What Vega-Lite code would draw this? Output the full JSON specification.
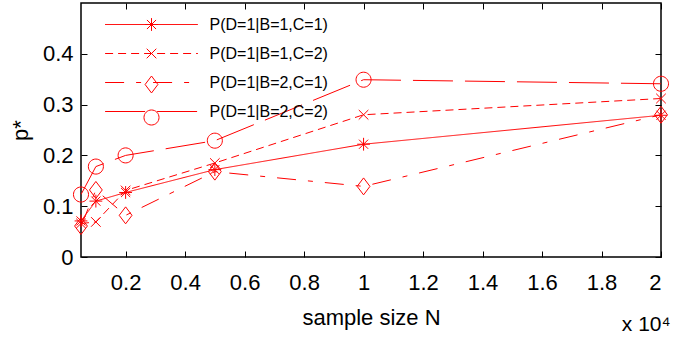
{
  "$schema": "https://vega.github.io/schema/vega-lite/v6.json",
  "width": 580,
  "height": 254,
  "autosize": {"type": "none"},
  "padding": {"left": 81, "top": 3, "right": 22, "bottom": 88},
  "background": "white",
  "config": {
    "view": {"stroke": "black", "strokeWidth": 1.5},
    "font": "Liberation Sans, Arial, sans-serif",
    "axis": {"grid": false, "domain": false, "tickColor": "black", "labelColor": "black", "titleColor": "black", "titleFontWeight": "normal"}
  },
  "title": {"text": "x 10⁴", "orient": "bottom", "anchor": "end", "fontSize": 21, "fontWeight": "normal", "offset": -14, "color": "black"},
  "data": {
    "values": [
      {"N": 500, "p": 0.071, "series": "P(D=1|B=1,C=1)"},
      {"N": 1000, "p": 0.11, "series": "P(D=1|B=1,C=1)"},
      {"N": 2000, "p": 0.127, "series": "P(D=1|B=1,C=1)"},
      {"N": 5000, "p": 0.172, "series": "P(D=1|B=1,C=1)"},
      {"N": 10000, "p": 0.222, "series": "P(D=1|B=1,C=1)"},
      {"N": 20000, "p": 0.279, "series": "P(D=1|B=1,C=1)"},
      {"N": 500, "p": 0.066, "series": "P(D=1|B=1,C=2)"},
      {"N": 1000, "p": 0.069, "series": "P(D=1|B=1,C=2)"},
      {"N": 2000, "p": 0.131, "series": "P(D=1|B=1,C=2)"},
      {"N": 5000, "p": 0.185, "series": "P(D=1|B=1,C=2)"},
      {"N": 10000, "p": 0.28, "series": "P(D=1|B=1,C=2)"},
      {"N": 20000, "p": 0.312, "series": "P(D=1|B=1,C=2)"},
      {"N": 500, "p": 0.061, "series": "P(D=1|B=2,C=1)"},
      {"N": 1000, "p": 0.132, "series": "P(D=1|B=2,C=1)"},
      {"N": 2000, "p": 0.082, "series": "P(D=1|B=2,C=1)"},
      {"N": 5000, "p": 0.168, "series": "P(D=1|B=2,C=1)"},
      {"N": 10000, "p": 0.139, "series": "P(D=1|B=2,C=1)"},
      {"N": 20000, "p": 0.28, "series": "P(D=1|B=2,C=1)"},
      {"N": 500, "p": 0.123, "series": "P(D=1|B=2,C=2)"},
      {"N": 1000, "p": 0.178, "series": "P(D=1|B=2,C=2)"},
      {"N": 2000, "p": 0.2, "series": "P(D=1|B=2,C=2)"},
      {"N": 5000, "p": 0.229, "series": "P(D=1|B=2,C=2)"},
      {"N": 10000, "p": 0.349, "series": "P(D=1|B=2,C=2)"},
      {"N": 20000, "p": 0.341, "series": "P(D=1|B=2,C=2)"}
    ]
  },
  "layer": [
    {
      "mark": {"type": "line", "stroke": "#ff0000", "strokeWidth": 1, "clip": true},
      "encoding": {
        "x": {"field": "N", "type": "quantitative", "scale": {"domain": [500, 20000], "nice": false, "zero": false},
          "axis": {"orient": "bottom", "values": [2000, 4000, 6000, 8000, 10000, 12000, 14000, 16000, 18000, 20000],
            "labelExpr": "format(datum.value/10000, '~g')", "tickSize": -6, "labelPadding": 21, "labelFontSize": 22,
            "title": "sample size N", "titleFontSize": 22, "titlePadding": 14}},
        "y": {"field": "p", "type": "quantitative", "scale": {"domain": [0, 0.5], "nice": false},
          "axis": {"orient": "left", "values": [0, 0.1, 0.2, 0.3, 0.4], "format": "~g", "tickSize": -6, "labelPadding": 14,
            "labelFontSize": 22, "title": "p*", "titleFontSize": 22, "titlePadding": 10}},
        "strokeDash": {"field": "series", "type": "nominal",
          "scale": {"domain": ["P(D=1|B=1,C=1)", "P(D=1|B=1,C=2)", "P(D=1|B=2,C=1)", "P(D=1|B=2,C=2)"],
            "range": [[1, 0], [8, 5], [19, 12, 5, 12], [40, 12]]},
          "legend": {"title": null, "orient": "none", "legendX": 62, "legendY": 13, "symbolType": "M-5.8,0H5.8", "symbolSize": 256,
            "symbolStrokeColor": "#ff0000", "symbolStrokeWidth": 1, "labelFontSize": 16, "labelOffset": 49.5, "rowPadding": 12,
            "labelColor": "black", "padding": 0}}
      }
    },
    {
      "mark": {"type": "point", "filled": false, "stroke": "#ff0000", "strokeWidth": 1, "size": 256, "opacity": 1, "clip": false},
      "encoding": {
        "x": {"field": "N", "type": "quantitative",
          "axis": {"orient": "top", "values": [2000, 4000, 6000, 8000, 10000, 12000, 14000, 16000, 18000, 20000], "labels": false, "tickSize": -6, "title": null}},
        "y": {"field": "p", "type": "quantitative",
          "axis": {"orient": "right", "values": [0, 0.1, 0.2, 0.3, 0.4], "labels": false, "tickSize": -6, "title": null}},
        "shape": {"field": "series", "type": "nominal",
          "scale": {"range": [
            "M-0.8,0L0.8,0M0,-0.8L0,0.8M-0.57,-0.57L0.57,0.57M-0.57,0.57L0.57,-0.57",
            "M-0.6,-0.6L0.6,0.6M-0.6,0.6L0.6,-0.6",
            "M0,-1.06L0.8,0L0,1.06L-0.8,0Z",
            "M-0.94,0A0.94,0.94 0 1,0 0.94,0A0.94,0.94 0 1,0 -0.94,0Z"]},
          "legend": {"title": null, "orient": "none", "legendX": 62, "legendY": 13, "symbolSize": 256,
            "symbolStrokeColor": "#ff0000", "symbolFillColor": "transparent", "symbolStrokeWidth": 1, "labelFontSize": 16, "labelOffset": 49.5, "rowPadding": 12,
            "labelExpr": "''", "padding": 0}}
      }
    }
  ],
  "resolve": {"axis": {"x": "independent", "y": "independent"}}
}
